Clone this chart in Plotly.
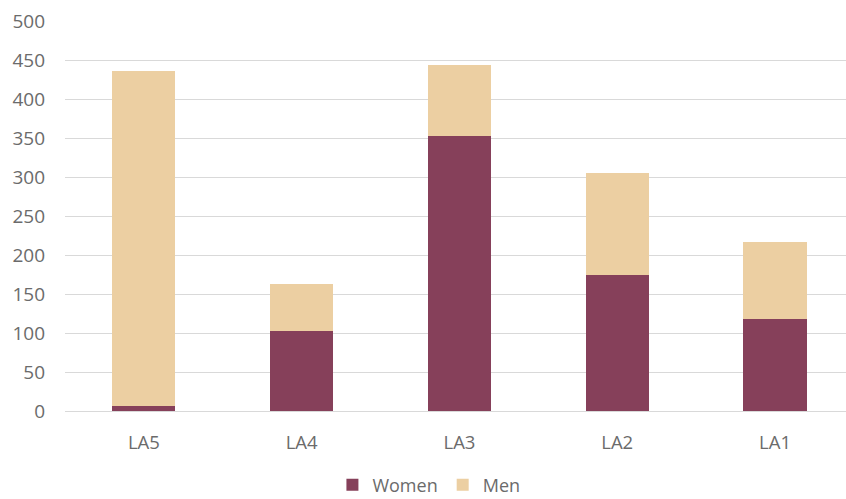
import plotly.graph_objects as go

categories = ["LA5", "LA4", "LA3", "LA2", "LA1"]
women = [6, 102, 352, 174, 118]
men = [430, 61, 91, 131, 99]

fig = go.Figure()
fig.add_trace(go.Bar(name="Women", x=categories, y=women, marker=dict(color="#86405A", line=dict(width=0))))
fig.add_trace(go.Bar(name="Men", x=categories, y=men, marker=dict(color="#ECCFA2", line=dict(width=0))))

fig.update_layout(
    barmode="stack",
    bargap=0.6,
    width=846, height=499,
    margin=dict(l=65, r=0, t=21, b=88, autoexpand=False),
    plot_bgcolor="white", paper_bgcolor="white",
    font=dict(family="Open Sans, sans-serif", size=19, color="#6b6b6b"),
    legend=dict(orientation="h", xref="container", x=0.507, xanchor="center",
                y=-0.19, yanchor="middle",
                font=dict(size=18, color="#6b6b6b"), traceorder="normal", itemwidth=30,
                tracegroupgap=0),
    xaxis=dict(range=[-0.5, 4.45], showgrid=False, showline=True, linecolor="#d9d9d9", linewidth=1,
               ticks="", tickfont=dict(size=18.5, color="#6b6b6b"), ticklabelstandoff=15,
               automargin=False),
    yaxis=dict(range=[0, 500], dtick=50, showgrid=True, gridcolor="#d9d9d9", gridwidth=1,
               zeroline=False, ticks="", tickfont=dict(size=19, color="#6b6b6b"), ticklabelstandoff=19,
               automargin=False),
)

fig.write_html("out.html", config={"displayModeBar": False},
               post_script="document.body.style.margin='0';document.body.style.overflow='hidden';")
